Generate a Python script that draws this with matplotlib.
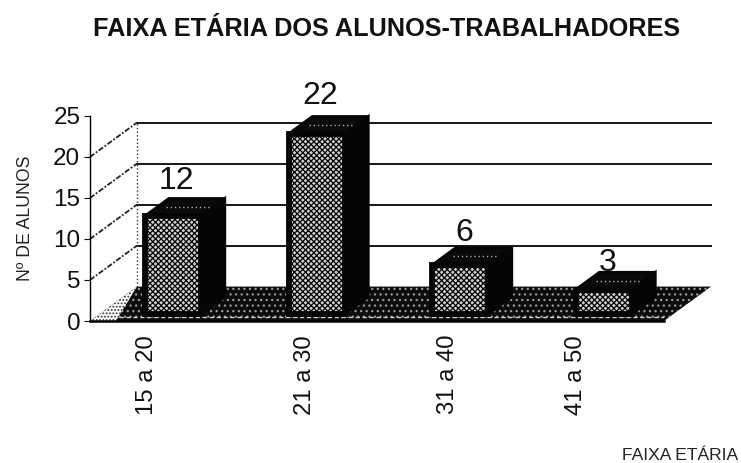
#!/usr/bin/env python3
"""Faixa etaria dos alunos-trabalhadores: fake 3D column chart, as in Excel."""

import matplotlib
matplotlib.use('Agg')
import matplotlib.pyplot as plt
from matplotlib.patches import Polygon

plt.rcParams['font.family'] = ['Liberation Sans', 'DejaVu Sans']
plt.rcParams['hatch.linewidth'] = 0.9

W, H = 741, 463

categories = ['15 a 20', '21 a 30', '31 a 40', '41 a 50']
alunos = [12, 22, 6, 3]
yticks = [0, 5, 10, 15, 20, 25]
gridlines = [5, 10, 15, 20]

# the scan has its category labels unevenly spaced
label_pos = [-0.105, 1.0, 1.995, 2.89]
# gap between bar top and its number, in points
label_gap = [7, 9, 5, 1]

# depth of the 3D box, in data units
DEPTH_X = 0.3275
DEPTH_Y = 4.2
BAR_W = 0.39
BAR_NUDGE = 0.015
BAR_START = 0.2   # how far into the depth the bars sit
BAR_DEPTH = 0.5


def shift(x, y, frac):
    return x + DEPTH_X * frac, y + DEPTH_Y * frac


def box(ax, x0, x1, z0, z1, f0, f1):
    """One bar as three polygons: side, top, front."""
    side = [shift(x1, z0, f0), shift(x1, z0, f1), shift(x1, z1, f1), shift(x1, z1, f0)]
    top = [shift(x0, z1, f0), shift(x1, z1, f0), shift(x1, z1, f1), shift(x0, z1, f1)]
    face = [shift(x0, z0, f0), shift(x1, z0, f0), shift(x1, z1, f0), shift(x0, z1, f0)]
    ax.add_patch(Polygon(side, fc='#050505', ec='#050505', lw=2, zorder=4, clip_on=False))
    ax.add_patch(Polygon(top, fc='#0a0a0a', ec='#050505', lw=2, zorder=4, clip_on=False))
    ax.add_patch(Polygon(face, fc='#d0d0d0', ec='#050505', lw=0, hatch='xxxxxx', zorder=5,
                         clip_on=False))
    ax.add_patch(Polygon(face, fc='none', ec='#050505', lw=4.2, zorder=6, clip_on=False))
    # light specks on the top face
    sx, sy = zip(shift(x0 + 0.06, z1, (f0 + f1) / 2), shift(x1 - 0.02, z1, (f0 + f1) / 2))
    ax.plot(sx, sy, color='#aaaaaa', lw=1, ls=(0, (1, 2)), zorder=6, clip_on=False)


fig = plt.figure(figsize=(W / 100, H / 100), dpi=100)
ax = fig.add_axes([90 / W, 1 - 321 / H, 574 / W, 205 / H])
ax.set_xlim(-0.5, 3.5)
ax.set_ylim(0, 25)

# floor, dark with a white dot raster
floor = [(-0.5, 0), (3.5, 0), shift(3.5, 0, 1), shift(-0.5, 0, 1)]
ax.add_patch(Polygon(floor, fc='#0c0c0c', ec='#9a9a9a', hatch='...', lw=0, zorder=2, clip_on=False))
# washed out corner on the left and light streak near the front edge
corner = [(-0.5, 0), (-0.32, 0), shift(-0.5, 0, 1)]
ax.add_patch(Polygon(corner, fc='white', ec='#333333', hatch='.....', lw=0, zorder=2, clip_on=False))
ax.plot([-0.3, 3.5], [0.45, 0.45], color='#cfcfcf', lw=1, ls=(0, (3, 2)), zorder=3)

# back wall and its lines
for v in gridlines:
    ax.plot([-0.5 + DEPTH_X, 3.5 + DEPTH_X], [v + DEPTH_Y] * 2, color='#151515', lw=1.4, zorder=1,
            clip_on=False)
    ax.plot([-0.5, -0.5 + DEPTH_X], [v, v + DEPTH_Y], color='#222222', lw=1.3,
            ls=(0, (3, 1, 1, 1)), zorder=1, clip_on=False)
ax.plot([-0.5 + DEPTH_X] * 2, [DEPTH_Y, 20 + DEPTH_Y], color='#333333', lw=1, ls=':', zorder=1,
        clip_on=False)

# bars
for i, v in enumerate(alunos):
    box(ax, i + BAR_NUDGE - BAR_W / 2, i + BAR_NUDGE + BAR_W / 2, 0, v, BAR_START,
        BAR_START + BAR_DEPTH)
    _, cy = shift(i, v, BAR_START + BAR_DEPTH)
    ax.annotate(str(v), (i + 0.105, cy), xytext=(0, label_gap[i]), textcoords='offset points',
                ha='center', va='baseline', fontsize=23, color='#111111', zorder=7,
                annotation_clip=False)

for s in ['top', 'right']:
    ax.spines[s].set_visible(False)
ax.spines['left'].set_linewidth(1)
ax.spines['bottom'].set_linewidth(1.8)
ax.spines['bottom'].set_zorder(3)

ax.set_yticks(yticks)
ax.tick_params(axis='y', labelsize=17.5, length=4, pad=3, colors='#111111')
ax.set_xticks(label_pos)
ax.set_xticklabels(categories, rotation=90, fontsize=17.2, color='#111111')
ax.tick_params(axis='x', length=0, pad=10)

ax.set_ylabel('Nº DE ALUNOS', fontsize=12.7, color='#222222', labelpad=14)
fig.text(387 / W, 1 - 29 / H, 'FAIXA ETÁRIA DOS ALUNOS-TRABALHADORES', ha='center', va='center',
         fontsize=18.2, fontweight='bold', color='#111111')
fig.text(1 - 3 / W, 1 - 455 / H, 'FAIXA ETÁRIA', ha='right', va='center', fontsize=12.6,
         color='#222222')

fig.savefig('out.png', dpi=100)
